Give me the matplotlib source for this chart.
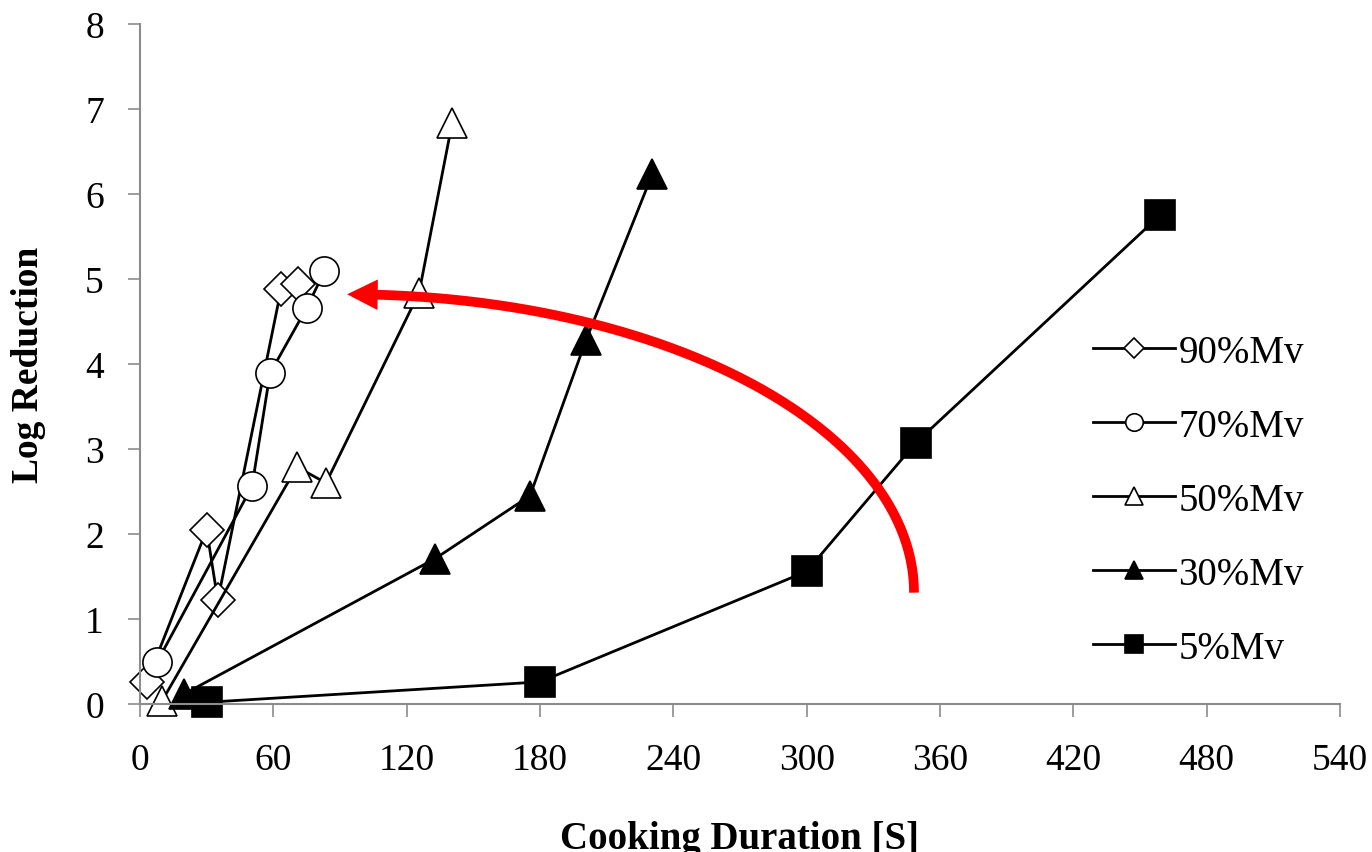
import numpy as np
import matplotlib
matplotlib.use("Agg")
import matplotlib.pyplot as plt
from matplotlib.patches import FancyArrowPatch

# ---- data ----
labels = ["90%Mv", "70%Mv", "50%Mv", "30%Mv", "5%Mv"]
x_90 = [3, 30, 35, 63.5, 71]
y_90 = [0.26, 2.05, 1.22, 4.88, 4.94]
x_70 = [7.6, 50.4, 58.5, 75, 83]
y_70 = [0.49, 2.56, 3.89, 4.66, 5.09]
x_50 = [10, 70.6, 83.7, 125.6, 140.5]
y_50 = [0.04, 2.79, 2.60, 4.84, 6.84]
x_30 = [20, 132.8, 175.5, 200.7, 230.5]
y_30 = [0.12, 1.71, 2.45, 4.28, 6.23]
x_5 = [30, 180, 300, 349, 459]
y_5 = [0.02, 0.26, 1.56, 3.07, 5.75]

x_ticks = [0, 60, 120, 180, 240, 300, 360, 420, 480, 540]
y_ticks = [0, 1, 2, 3, 4, 5, 6, 7, 8]

# annotation arrow (data coords): tail and tip
arrow_tail = (348.3, 1.31)
arrow_tip = (93.2, 4.82)

plt.rcParams['font.family'] = ['Liberation Serif', 'DejaVu Serif']

W, H = 1372, 853
fig = plt.figure(figsize=(W / 100, H / 100), dpi=100)
ax = fig.add_axes([140 / W, 1 - 705 / H, 1200 / W, 680 / H])

series = [
    (x_90, y_90, 'D', 'white', 17),
    (x_70, y_70, 'o', 'white', 21),
    (x_50, y_50, '^', 'white', 22),
    (x_30, y_30, '^', 'black', 22),
    (x_5, y_5, 's', 'black', 22),
]
for (xs, ys, m, fc, ms), lab in zip(series, labels):
    ax.plot(xs, ys, color='black', lw=2.0, marker=m, markersize=ms,
            markerfacecolor=fc, markeredgecolor='black', markeredgewidth=1.2,
            label=lab, clip_on=False)

ax.set_xlim(0, 540)
ax.set_ylim(0, 8)
ax.set_xticks(x_ticks)
ax.set_yticks(y_ticks)
ax.set_xticklabels([str(v) for v in x_ticks])
ax.set_yticklabels([str(v) for v in y_ticks])
for s in ['top', 'right']:
    ax.spines[s].set_visible(False)
for s in ['left', 'bottom']:
    ax.spines[s].set_color('#8c8c8c')
    ax.spines[s].set_linewidth(1.5)
ax.tick_params(axis='both', direction='out', length=9, width=1.2,
               color='#8c8c8c', labelsize=27, labelcolor='black')
ax.tick_params(axis='x', pad=19)
ax.tick_params(axis='y', pad=17)

# red curved arrow (quarter ellipse)
cx, cy = arrow_tip[0], arrow_tail[1]
a = arrow_tail[0] - arrow_tip[0]
b = arrow_tip[1] - arrow_tail[1]
th = np.linspace(0, np.pi / 2, 300)
ex = cx + a * np.cos(th)
ey = cy + b * np.sin(th)
head_px = 30
keep = ex >= arrow_tip[0] + (head_px - 8) * 540 / 1200
ax.plot(ex[keep], ey[keep], color='red', lw=7, solid_capstyle='butt',
        zorder=10, clip_on=False)
xa = arrow_tip[0] + head_px * 540 / 1200
ya = cy + b * np.sqrt(max(0.0, 1 - ((xa - cx) / a) ** 2))
head = FancyArrowPatch(posA=(xa, ya), posB=arrow_tip, shrinkA=0, shrinkB=0,
                       arrowstyle='-|>,head_length=22,head_width=11',
                       mutation_scale=1, lw=0, color='red', zorder=11,
                       transform=ax.transData)
ax.add_patch(head)

leg = ax.legend(loc='upper left', bbox_to_anchor=(1093 / W, 1 - 335 / H),
                bbox_transform=fig.transFigure, frameon=False, fontsize=28,
                handlelength=2.1, handletextpad=0.1, labelspacing=0.95,
                markerscale=0.6, borderpad=0, borderaxespad=0)

fig.text(740 / W, 4 / H, 'Cooking Duration [S]', ha='center', va='baseline',
         fontsize=28, fontweight='bold')
fig.text(29 / W, 1 - 365 / H, 'Log Reduction', ha='center', va='center',
         rotation=90, fontsize=27, fontweight='bold')

fig.savefig('out.png', dpi=100)
